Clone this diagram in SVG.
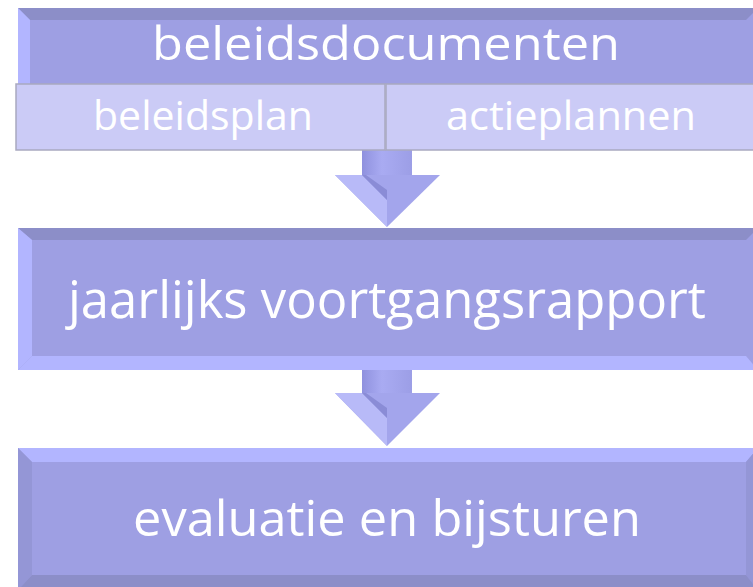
<svg xmlns="http://www.w3.org/2000/svg" width="753" height="587" viewBox="0 0 753 587">
<style>
.main{fill:#9e9fe3}
.dark{fill:#8c8ec8}
.light{fill:#b2b5ff}
.mid{fill:#a6a8ee}
.cell{fill:#cbcbf6;stroke:#a9a9c0;stroke-width:1.5}
.t{font-family:"Open Sans","Noto Sans","Liberation Sans",sans-serif;fill:#ffffff;text-anchor:middle}
.arrow{fill:#a3a5ec}
.arrowL{fill:#b8baf8}
</style>
<defs>
<linearGradient id="shaft" x1="0" y1="0" x2="1" y2="0">
<stop offset="0" stop-color="#8f91de"/>
<stop offset="0.4" stop-color="#a9abf2"/>
<stop offset="1" stop-color="#9c9ee6"/>
</linearGradient>
</defs>
<g id="connectors">
<g id="arrow1">
<rect x="362" y="150" width="50" height="30" fill="url(#shaft)"/>
<polygon class="arrow" points="335,175 440,175 387,227"/>
<polygon class="arrowL" points="335,175 362,175 387,200 387,227"/>
<polygon fill="#8a8cd6" points="362,175 387,200 387,190 366,175"/>
</g>
<g id="arrow2">
<rect x="362" y="370" width="50" height="27" fill="url(#shaft)"/>
<polygon class="arrow" points="335,393 440,393 387,446"/>
<polygon class="arrowL" points="335,393 362,393 387,418 387,446"/>
<polygon fill="#8a8cd6" points="362,393 387,418 387,408 366,393"/>
</g>
</g>
<g id="beleidsdocumenten">
<rect class="main" x="18" y="8" width="740" height="76"/>
<polygon class="dark" points="18,8 758,8 746,20 30,20"/>
<polygon class="light" points="18,8 30,20 30,84 18,84"/>
<text class="t" x="386" y="60" font-size="46" textLength="468" lengthAdjust="spacingAndGlyphs">beleidsdocumenten</text>
</g>
<g id="beleidsplan">
<rect class="cell" x="16" y="84" width="369" height="66"/>
<text class="t" x="203" y="130" font-size="40" textLength="220" lengthAdjust="spacingAndGlyphs">beleidsplan</text>
</g>
<g id="actieplannen">
<rect class="cell" x="386" y="84" width="372" height="66"/>
<text class="t" x="571" y="130" font-size="40" textLength="250" lengthAdjust="spacingAndGlyphs">actieplannen</text>
</g>
<g id="jaarlijks">
<rect class="main" x="18" y="228" width="740" height="142"/>
<polygon class="dark" points="18,228 758,228 746,240 32,240"/>
<polygon class="light" points="18,228 32,240 32,356 18,370"/>
<polygon class="light" points="18,370 32,356 746,356 758,370"/>
<text class="t" x="387" y="318" font-size="51" textLength="638" lengthAdjust="spacingAndGlyphs">jaarlijks voortgangsrapport</text>
</g>
<g id="evaluatie">
<rect class="main" x="18" y="448" width="740" height="145"/>
<polygon class="light" points="18,448 758,448 746,462 32,462"/>
<polygon fill="#9496d6" points="18,448 32,462 32,575 18,590"/>
<polygon fill="#9496d6" points="746,462 758,448 758,590 746,575"/>
<polygon class="dark" points="18,590 32,575 746,575 758,590"/>
<text class="t" x="387" y="536" font-size="49" textLength="508" lengthAdjust="spacingAndGlyphs">evaluatie en bijsturen</text>
</g>
</svg>
